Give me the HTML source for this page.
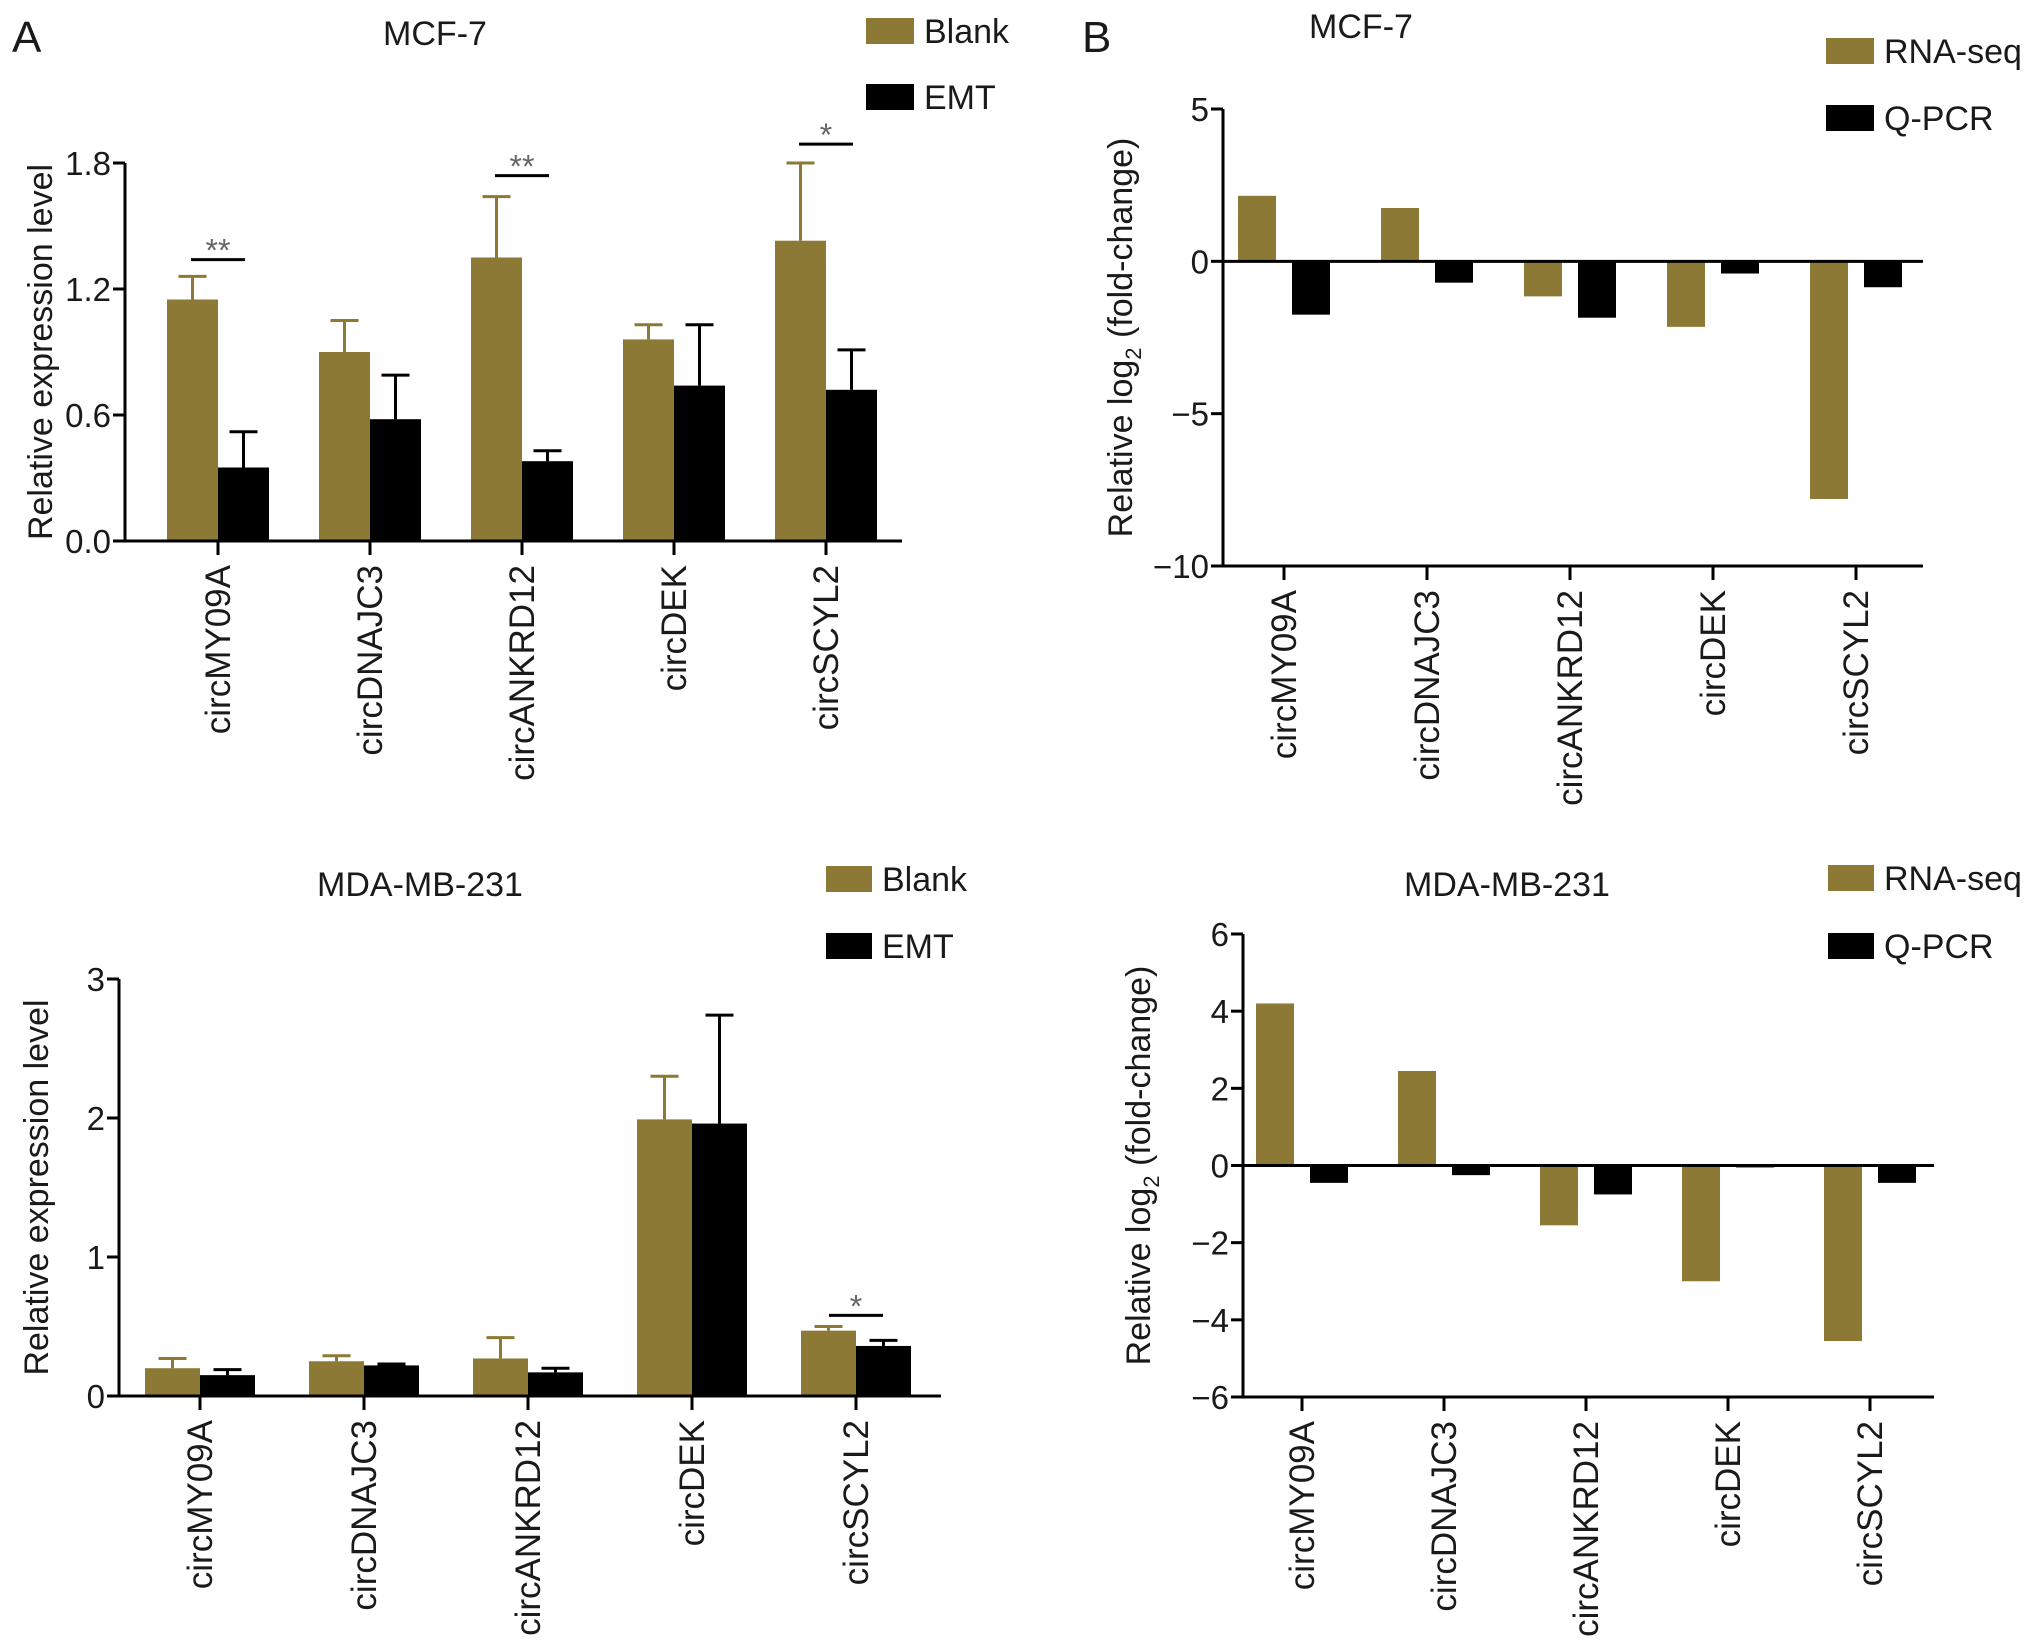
<!DOCTYPE html>
<html><head><meta charset="utf-8"><style>
html,body{margin:0;padding:0;background:#fff}
svg{display:block}
text{font-family:"Liberation Sans",Arial,sans-serif;fill:#1a1a1a}
</style></head><body>
<svg id="fig" width="2032" height="1648" viewBox="0 0 2032 1648" xmlns="http://www.w3.org/2000/svg">
<text x="12" y="52" font-size="44">A</text>
<text x="1082" y="52" font-size="44">B</text>
</svg>
<script>
const categories = ["circMY09A","circDNAJC3","circANKRD12","circDEK","circSCYL2"];
// Panel A top (MCF-7)
const a1Blank = [1.15,0.90,1.35,0.96,1.43];
const a1BlankErr = [0.11,0.15,0.29,0.07,0.37];
const a1Emt = [0.35,0.58,0.38,0.74,0.72];
const a1EmtErr = [0.17,0.21,0.05,0.29,0.19];
const a1Ticks = [0,0.6,1.2,1.8];
const a1TickLabels = ["0.0","0.6","1.2","1.8"];
const a1Sig = [{i:0,v:1.34,s:"**"},{i:2,v:1.74,s:"**"},{i:4,v:1.89,s:"*"}];
// Panel A bottom (MDA-MB-231)
const a2Blank = [0.20,0.25,0.27,1.99,0.47];
const a2BlankErr = [0.07,0.04,0.15,0.31,0.03];
const a2Emt = [0.15,0.22,0.17,1.96,0.36];
const a2EmtErr = [0.04,0.01,0.03,0.78,0.04];
const a2Ticks = [0,1,2,3];
const a2TickLabels = ["0","1","2","3"];
const a2Sig = [{i:4,v:0.58,s:"*"}];
// Panel B top (MCF-7)
const b1Rna = [2.15,1.75,-1.15,-2.15,-7.8];
const b1Qpcr = [-1.75,-0.7,-1.85,-0.4,-0.85];
const b1Ticks = [-10,-5,0,5];
const b1TickLabels = ["\u221210","\u22125","0","5"];
// Panel B bottom (MDA-MB-231)
const b2Rna = [4.2,2.45,-1.55,-3.0,-4.55];
const b2Qpcr = [-0.45,-0.25,-0.75,-0.05,-0.45];
const b2Ticks = [-6,-4,-2,0,2,4,6];
const b2TickLabels = ["\u22126","\u22124","\u22122","0","2","4","6"];

const NS="http://www.w3.org/2000/svg";
const svg=document.getElementById('fig');
const OLIVE="#8b7935";
function mk(tag,attrs,parent){const e=document.createElementNS(NS,tag);for(const k in attrs)e.setAttribute(k,attrs[k]);(parent||svg).appendChild(e);return e;}

function chart(c){
  const g=mk('g',{});
  
  
  const y=v=>c.y0+(v-c.vmin)/(c.vmax-c.vmin)*(c.y1-c.y0);
  const cx=i=>c.xc0+i*c.step;
  c.s1.forEach((v,i)=>{
    const zero=y(Math.max(0,c.vmin));
    const x=cx(i)-c.off1;
    const r=mk('rect',{x:x,y:Math.min(y(v),zero),width:c.bw,height:Math.abs(y(v)-zero),fill:OLIVE},g);
    
    
    if(c.e1){const top=y(v+c.e1[i]);mk('line',{x1:x+c.bw/2,x2:x+c.bw/2,y1:y(v),y2:top,stroke:OLIVE,'stroke-width':3},g);
      mk('line',{x1:x+c.bw/2-14,x2:x+c.bw/2+14,y1:top,y2:top,stroke:OLIVE,'stroke-width':3},g);}
  });
  c.s2.forEach((v,i)=>{
    const zero=y(Math.max(0,c.vmin));
    const x=cx(i)+c.off2;
    const r=mk('rect',{x:x,y:Math.min(y(v),zero),width:c.bw,height:Math.abs(y(v)-zero),fill:"#000"},g);
    
    
    if(c.e2){const top=y(v+c.e2[i]);mk('line',{x1:x+c.bw/2,x2:x+c.bw/2,y1:y(v),y2:top,stroke:"#000",'stroke-width':3},g);
      mk('line',{x1:x+c.bw/2-14,x2:x+c.bw/2+14,y1:top,y2:top,stroke:"#000",'stroke-width':3},g);}
  });
  const ya=mk('line',{x1:c.ax,x2:c.ax,y1:y(c.vmax),y2:y(c.vmin)+1.5,stroke:"#000",'stroke-width':3},g);
  
  const zy=y(Math.max(0,c.vmin));
  const xa=mk('line',{x1:c.ax,x2:c.axEnd,y1:zy,y2:zy,stroke:"#000",'stroke-width':3},g);
  
  if(c.vmin<0){const xb=mk('line',{x1:c.ax,x2:c.axEnd,y1:y(c.vmin),y2:y(c.vmin),stroke:"#000",'stroke-width':3},g);
    }
  const xAxisY=y(c.vmin);
  c.ticks.forEach((t,j)=>{
    mk('line',{x1:c.ax-12,x2:c.ax,y1:y(t),y2:y(t),stroke:"#000",'stroke-width':3},g);
    const tx=mk('text',{x:c.ax-14,y:y(t)+12,'font-size':33,'text-anchor':'end'},g);
    tx.textContent=c.tickLabels[j];
    
  });
  categories.forEach((n,i)=>{
    mk('line',{x1:cx(i),x2:cx(i),y1:xAxisY,y2:xAxisY+14,stroke:"#000",'stroke-width':3},g);
    const tx=mk('text',{x:0,y:0,'font-size':35,'text-anchor':'end',transform:`translate(${cx(i)+12},${xAxisY+24}) rotate(-90)`},g);
    tx.textContent=n;
    
  });
  const yt=mk('text',{x:0,y:0,'font-size':34,'text-anchor':'middle',transform:`translate(${c.ytx},${(y(c.vmax)+y(c.vmin))/2}) rotate(-90)`},g);
  
  if(c.log){yt.appendChild(document.createTextNode('Relative log'));const ts=mk('tspan',{'font-size':22,dy:9},yt);ts.textContent='2';const t2=mk('tspan',{dy:-9},yt);t2.textContent=' (fold-change)';}
  else yt.textContent='Relative expression level';
  const tt=mk('text',{x:c.titleX,y:c.titleY+12,'font-size':34,'text-anchor':'middle'},g);
  tt.textContent=c.title;
  [[c.k1Label,OLIVE,c.legY1],[c.k2Label,"#000",c.legY2]].forEach(([lab,col,ly])=>{
    const s=mk('rect',{x:c.legX,y:ly,width:c.legW,height:26,fill:col},g);
    
    const t=mk('text',{x:c.legX+c.legW+10,y:ly+25,'font-size':34},g);
    t.textContent=lab;
  });
  (c.sig||[]).forEach(s=>{
    const yy=y(s.v);
    mk('line',{x1:cx(s.i)-27,x2:cx(s.i)+27,y1:yy,y2:yy,stroke:"#000",'stroke-width':3},g);
    const t=mk('text',{x:cx(s.i),y:yy+2,'font-size':32,'text-anchor':'middle',style:'fill:#666'},g);
    t.textContent=s.s;
  });
}

chart({name:'chart-a-mcf7',s1:a1Blank,e1:a1BlankErr,s2:a1Emt,e2:a1EmtErr,k1:'blank',k2:'emt',k1Label:'Blank',k2Label:'EMT',
  vmin:0,vmax:1.8,y0:541,y1:163,ax:125,axEnd:902,xc0:218,step:152,bw:51,off1:51,off2:0,
  ticks:a1Ticks,tickLabels:a1TickLabels,ytx:52,title:'MCF-7',titleX:435,titleY:33,
  legX:866,legW:48,legY1:18,legY2:84,sig:a1Sig});
chart({name:'chart-a-mda',s1:a2Blank,e1:a2BlankErr,s2:a2Emt,e2:a2EmtErr,k1:'blank',k2:'emt',k1Label:'Blank',k2Label:'EMT',
  vmin:0,vmax:3,y0:1396,y1:979,ax:119,axEnd:941,xc0:200,step:164,bw:55,off1:55,off2:0,
  ticks:a2Ticks,tickLabels:a2TickLabels,ytx:48,title:'MDA-MB-231',titleX:420,titleY:884,
  legX:826,legW:46,legY1:866,legY2:933,sig:a2Sig});
chart({name:'chart-b-mcf7',s1:b1Rna,s2:b1Qpcr,k1:'rnaseq',k2:'qpcr',k1Label:'RNA-seq',k2Label:'Q-PCR',log:true,
  vmin:-10,vmax:5,y0:566,y1:109,ax:1223,axEnd:1923,xc0:1284,step:143,bw:38,off1:46,off2:8,
  ticks:b1Ticks,tickLabels:b1TickLabels,ytx:1132,title:'MCF-7',titleX:1361,titleY:26,
  legX:1826,legW:48,legY1:38,legY2:105});
chart({name:'chart-b-mda',s1:b2Rna,s2:b2Qpcr,k1:'rnaseq',k2:'qpcr',k1Label:'RNA-seq',k2Label:'Q-PCR',log:true,
  vmin:-6,vmax:6,y0:1397,y1:934,ax:1243,axEnd:1934,xc0:1302,step:142,bw:38,off1:46,off2:8,
  ticks:b2Ticks,tickLabels:b2TickLabels,ytx:1150,title:'MDA-MB-231',titleX:1507,titleY:884,
  legX:1828,legW:46,legY1:865,legY2:933});
</script>
</body></html>
